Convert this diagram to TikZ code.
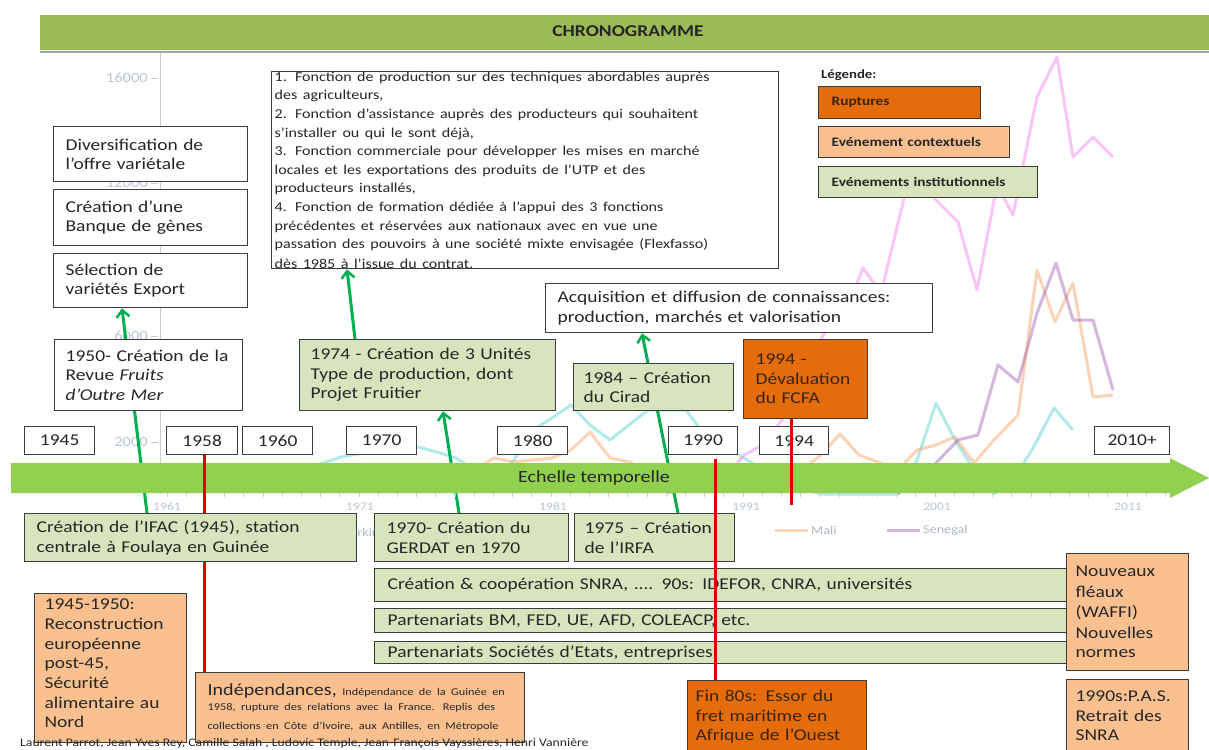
\documentclass[tikz,border=0pt]{standalone}
\usepackage{fontspec}
\setmainfont{Carlito}[FakeStretch=1.18]
\usetikzlibrary{arrows.meta}
\definecolor{banner}{HTML}{9BBB59}
\definecolor{barg}{HTML}{92D050}
\definecolor{lgreen}{HTML}{D7E4BD}
\definecolor{lorange}{HTML}{FAC090}
\definecolor{dorange}{HTML}{E46C0A}
\definecolor{arrg}{HTML}{00B050}
\definecolor{redl}{HTML}{E00000}
\definecolor{bord}{HTML}{3C3C3C}
\definecolor{txt}{HTML}{262626}
\definecolor{dtxt}{HTML}{3A2410}
\definecolor{axl}{HTML}{BCC5D6}
\definecolor{axisgrey}{HTML}{CCCCCC}
\definecolor{cpink}{HTML}{F080F0}
\definecolor{ccyan}{HTML}{55D0D0}
\definecolor{corange}{HTML}{F7A060}
\definecolor{cpurple}{HTML}{A060B0}
\newcommand\fs[2]{\fontsize{#1}{#2}\selectfont}
% name, x1, y1, x2, y2, style, xpad, text
\newcommand\mybox[8]{%
  \pgfmathsetmacro\mbw{#4-#2}\pgfmathsetmacro\mbh{#5-#3}\pgfmathsetmacro\mbt{#4-#2-2*#7}%
  \node[#6, anchor=north west, minimum width=\mbw pt, minimum height=\mbh pt,
        text width=\mbt pt, inner xsep=#7pt, inner ysep=0pt] (#1) at (#2,#3) {#8};}
\pgfdeclarelayer{paper}
\pgfdeclarelayer{chart}
\pgfdeclarelayer{conn}
\pgfdeclarelayer{barl}
\pgfdeclarelayer{top}
\pgfsetlayers{paper,chart,conn,barl,main,top}
\tikzset{
  frame/.style={draw=bord, line width=1.3pt, text=txt, align=left, font=\fs{16.5}{19.5}},
  bw/.style={frame, fill=white},
  bg/.style={frame, fill=lgreen},
  bo/.style={frame, fill=lorange},
  bd/.style={frame, fill=dorange, text=dtxt},
  yearbox/.style={bw, align=center, font=\fs{16.5}{19}},
  legbox/.style={frame, font=\bfseries\fs{13}{15}},
  garrow/.style={draw=arrg, line width=3pt, -{Straight Barb[length=7pt,width=13pt,line width=2.5pt]}},
  rline/.style={draw=redl, line width=3pt},
  series/.style={line width=3pt, opacity=0.45, line join=round},
  ylab/.style={text=axl, font=\fs{14}{16}, inner sep=0pt},
  xlab/.style={text=axl, font=\fs{11.5}{13}, inner sep=0pt},
  leglab/.style={text=axl!80!gray, font=\fs{12}{14}, inner sep=0pt, anchor=west},
}
\begin{document}
\begin{tikzpicture}[x=1pt,y=-1pt]
\useasboundingbox (0,0) rectangle (1209,749);
\begin{pgfonlayer}{paper}
\fill[white] (0,0) rectangle (1209,749);
\end{pgfonlayer}

% ---------- background chart ----------
\begin{pgfonlayer}{chart}
\draw[axisgrey, line width=0.8pt] (160,53) -- (160,494);
\foreach \v/\yy in {16000/78,12000/183,6000/336,2000/442}{
  \node[ylab, anchor=east] (yl\v) at (148,\yy) {\v};
  \draw[axisgrey, line width=0.8pt] (151,\yy) -- (158,\yy);
}
\foreach \yr/\xx in {1961/167,1971/360,1981/553,1991/746,2001/937,2011/1128}{
  \node[xlab] (xl\yr) at (\xx,507) {\yr};
}
\draw[series, ccyan] (302,470) -- (341,457) -- (379,450) -- (418,447) -- (437,452) -- (456,458) -- (475,470) -- (494,480) -- (514,460) -- (533,430) -- (552,418) -- (571,405) -- (590,425) -- (610,440) -- (629,425) -- (648,410) -- (667,410) -- (686,410) -- (706,437) -- (725,447) -- (744,458) -- (763,470) -- (782,480) -- (802,488) -- (821,494) -- (898,494) -- (917,460) -- (936,403) -- (955,440) -- (974,470) -- (994,494) -- (1013,480) -- (1032,450) -- (1054,408) -- (1073,430);
\draw[series, corange] (456,485) -- (475,470) -- (494,458) -- (514,462) -- (533,460) -- (552,458) -- (571,450) -- (590,432) -- (610,458) -- (629,462) -- (648,470) -- (667,480) -- (686,485) -- (706,478) -- (725,470) -- (744,465) -- (763,470) -- (782,480) -- (802,470) -- (821,455) -- (840,434) -- (859,455) -- (878,462) -- (898,470) -- (917,450) -- (936,445) -- (955,437) -- (974,463) -- (994,440) -- (1018,415) -- (1037,270) -- (1055,322) -- (1073,283) -- (1093,397) -- (1113,395);
\draw[series, cpurple] (898,494) -- (917,478) -- (936,463) -- (958,440) -- (978,435) -- (998,365) -- (1018,382) -- (1037,313) -- (1056,263) -- (1073,320) -- (1093,320) -- (1113,390);
\draw[series, cpink] (667,494) -- (686,485) -- (706,472) -- (725,478) -- (744,455) -- (763,445) -- (782,420) -- (802,390) -- (821,340) -- (840,300) -- (853,293) -- (863,268) -- (881,293) -- (908,182) -- (922,180) -- (936,200) -- (958,222) -- (977,290) -- (997,185) -- (1013,215) -- (1037,97) -- (1057,57) -- (1073,157) -- (1093,137) -- (1113,157);
\node[leglab] (lgburk) at (342,532) {Burkina};
\draw[series, corange] (775,530) -- (808,530);
\node[leglab] (lgmali) at (811,530) {Mali};
\draw[series, cpurple] (887,530) -- (920,530);
\node[leglab] (lgsen) at (923,530) {Senegal};
\end{pgfonlayer}

% ---------- banner ----------
\fill[banner] (40,15) rectangle (1209,50);
\draw[gray!70, line width=1.2pt] (40,52) -- (1209,52);
\node[font=\bfseries\fs{16.5}{18}, text=black!85] (title) at (628,31) {CHRONOGRAMME};

% ---------- legend ----------
\node[font=\bfseries\fs{12.5}{14}, text=txt, anchor=west, inner sep=0pt] (legtitle) at (821,75) {Légende:};
\mybox{legR}{818}{86}{980}{118}{legbox, fill=dorange, text=dtxt}{13}{Ruptures}
\mybox{legC}{818}{126}{1009}{157}{legbox, fill=lorange}{13}{Evénement contextuels}
\mybox{legI}{818}{166}{1037}{197}{legbox, fill=lgreen}{13}{Evénements institutionnels}

% ---------- upper boxes ----------
\mybox{div}{53}{126}{247}{181}{bw}{12}{Diversification de\\ l’offre variétale}
\mybox{gen}{53}{189}{247}{245}{bw}{12}{Création d’une\\ Banque de gènes}
\mybox{sel}{53}{253}{247}{307}{bw}{12}{Sélection de\\ variétés Export}
\mybox{fonctions}{271}{71}{778}{268}{bw}{3}{\fs{13.6}{18.6}1. Fonction de production sur des techniques abordables auprès\\
des agriculteurs,\\
2. Fonction d’assistance  auprès des producteurs qui souhaitent\\
s’installer ou qui le sont déjà,\\
3. Fonction commerciale pour développer les mises en marché\\
locales et les exportations des produits de l’UTP  et des\\
producteurs installés,\\
4. Fonction de formation dédiée à l’appui des 3 fonctions\\
précédentes et réservées aux nationaux  avec en vue une\\
passation des pouvoirs à une société mixte envisagée (Flexfasso)\\
dès 1985 à l’issue  du contrat.}
\mybox{revue}{54}{339}{242}{410}{bw}{11}{1950- Création de la\\ Revue \textit{Fruits}\\ \textit{d’Outre Mer}}
\mybox{u1974}{299}{339}{555}{410}{bg}{11}{1974 - Création de 3 Unités\\ Type de production, dont\\ Projet Fruitier}
\mybox{acq}{545}{283}{932}{332}{bw}{12}{Acquisition et diffusion de connaissances:\\ production, marchés et valorisation}
\mybox{cirad}{573}{363}{733}{410}{bg}{10}{1984 – Création\\ du Cirad}
\mybox{deval}{743}{339}{867}{418}{bd}{12}{1994 -\\ Dévaluation\\ du FCFA}

% ---------- year boxes ----------
\mybox{y1945}{24}{426}{94}{454}{yearbox}{2}{1945}
\mybox{y1958}{166}{426}{237}{454}{yearbox}{2}{1958}
\mybox{y1960}{242}{426}{312}{454}{yearbox}{2}{1960}
\mybox{y1970}{346}{426}{416}{454}{yearbox}{2}{1970}
\mybox{y1980}{497}{426}{567}{454}{yearbox}{2}{1980}
\mybox{y1990}{668}{426}{737}{454}{yearbox}{2}{1990}
\mybox{y1994}{759}{426}{828}{454}{yearbox}{2}{1994}
\mybox{y2010}{1094}{426}{1169}{454}{yearbox}{2}{2010+}

% ---------- lower boxes ----------
\mybox{ifac}{24}{513}{356}{561}{bg}{12}{Création de l’IFAC (1945), station\\ centrale à Foulaya en Guinée}
\mybox{gerdat}{374}{513}{568}{561}{bg}{12}{1970- Création du\\ GERDAT en 1970}
\mybox{irfa}{574}{513}{734}{561}{bg}{10}{1975 – Création\\ de l’IRFA}
\mybox{snra}{374}{568}{1070}{601}{bg}{13}{Création \& coopération SNRA,  ....  90s: IDEFOR, CNRA, universités}
\mybox{bm}{374}{608}{1070}{632}{bg}{13}{Partenariats BM, FED, UE, AFD, COLEACP, etc.}
\mybox{socs}{374}{641}{1070}{663}{bg}{13}{Partenariats Sociétés d’Etats, entreprises}
\mybox{fleaux}{1066}{553}{1188}{670}{bo}{9}{\fs{16.5}{20.5}Nouveaux\\ fléaux\\ (WAFFI)\\ Nouvelles\\ normes}
\mybox{pas}{1066}{679}{1188}{752}{bo}{9}{1990s:P.A.S.\\ Retrait des\\ SNRA}
\mybox{fin}{687}{680}{866}{752}{bd}{8}{Fin 80s: Essor du\\ fret maritime en\\ Afrique de l’Ouest}
\mybox{reco}{34}{593}{186}{742}{bo}{10}{\fs{16.5}{19.7}1945-1950:\\ Reconstruction\\ européenne\\ post-45,\\ Sécurité\\ alimentaire au\\ Nord\\[-10pt]\mbox{}}
\mybox{ind}{195}{672}{524}{742}{bo}{12}{{\fs{17}{15}Indépendances,} {\fs{10.4}{15}Indépendance de la Guinée en}\\ \fs{10.4}{15}1958, rupture des relations avec la France. Replis des\\ collections en Côte d’Ivoire, aux Antilles, en Métropole}
\node[anchor=west, inner sep=0pt, font=\fs{11.6}{12}, text=txt] (authors) at (20,743) {Laurent Parrot, Jean-Yves Rey, Camille Salah , Ludovic Temple, Jean-François Vayssières, Henri Vannière};

% ---------- green connectors (behind boxes and bar) ----------
\begin{pgfonlayer}{conn}
\draw[garrow] ([xshift=123pt]ifac.north west) -- ([xshift=69pt]sel.south west);
\draw[garrow] ([xshift=85pt]gerdat.north west) -- ([xshift=144pt]u1974.south west);
\draw[garrow] ([xshift=56pt]u1974.north west) -- ([xshift=76pt]fonctions.south west);
\draw[garrow] ([xshift=104pt]irfa.north west) -- ([xshift=97pt]acq.south west);
\end{pgfonlayer}

% ---------- time bar ----------
\begin{pgfonlayer}{barl}
\fill[barg] (11,463) -- (1170,463) -- (1170,458) -- (1209,478) -- (1170,498) -- (1170,493) -- (11,493) -- cycle;
\foreach \i in {0,...,52}{\draw[axisgrey, line width=0.8pt] (167+\i*19.2,493) -- ++(0,4);}
\node[font=\fs{17}{19}, text=txt] (echelle) at (594,478) {Echelle temporelle};
\draw[rline] ([xshift=38pt]y1958.south west) -- ([xshift=9pt]ind.north west);
\end{pgfonlayer}

% ---------- red lines on top ----------
\begin{pgfonlayer}{top}
\coordinate (devEnd) at (791,505);
\draw[rline] ([xshift=47pt,yshift=-4pt]y1990.south west) -- ([xshift=28pt]fin.north west);
\draw[rline] ([xshift=48pt]deval.south west) -- (devEnd);
\end{pgfonlayer}
\end{tikzpicture}
\end{document}
